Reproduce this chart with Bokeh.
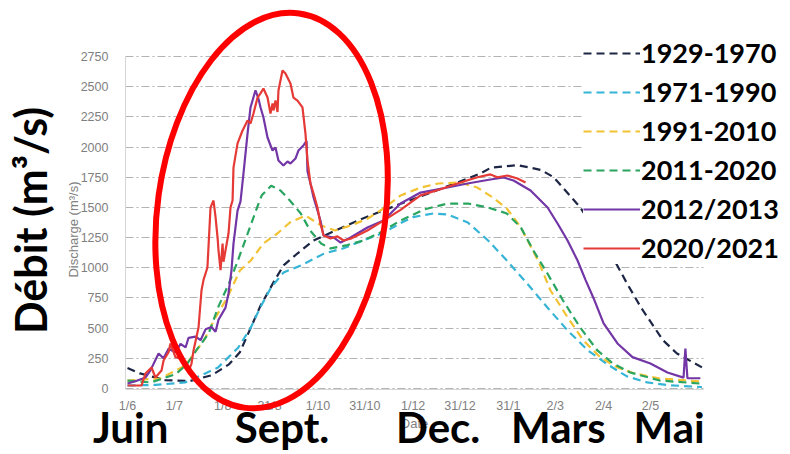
from bokeh.plotting import figure
from bokeh.models import Range1d, FixedTicker, Legend, LegendItem, Label
from bokeh.embed import file_html
from bokeh.resources import INLINE

# ---------------- data (day index from 1 June, discharge m3/s) ----------------
tick_days = [0, 30, 61, 91, 122, 152, 183, 213, 244, 274, 305, 335]
tick_labels = ["1/6", "1/7", "1/8", "31/8", "1/10", "31/10", "1/12", "31/12", "31/1", "2/3", "2/4", "2/5"]
y_ticks = [0, 250, 500, 750, 1000, 1250, 1500, 1750, 2000, 2250, 2500, 2750]

month_names = ["Juin", "Sept.", "Dec.", "Mars", "Mai"]
month_days = [2, 99, 199, 276, 347]

d_1929 = [0, 8, 24, 40, 54, 65, 72, 85, 94, 100, 109, 119, 125, 149, 175, 200, 226, 233, 250, 265, 273, 290, 311, 320, 329, 343, 352, 368]
q_1929 = [170, 125, 70, 62, 110, 200, 300, 680, 890, 1020, 1120, 1225, 1260, 1400, 1530, 1650, 1780, 1830, 1850, 1810, 1750, 1500, 1085, 870, 670, 400, 290, 175]

d_1971 = [0, 18, 37, 47, 58, 71, 79, 85, 92, 100, 111, 126, 138, 151, 164, 175, 183, 196, 205, 218, 231, 243, 256, 269, 282, 295, 308, 320, 333, 346, 368]
q_1971 = [25, 30, 50, 108, 174, 340, 505, 671, 837, 961, 1019, 1118, 1160, 1226, 1290, 1370, 1420, 1450, 1441, 1375, 1226, 1060, 870, 671, 480, 315, 195, 100, 50, 28, 12]

d_1991 = [0, 21, 37, 49, 56, 64, 72, 79, 87, 96, 104, 114, 124, 133, 143, 154, 164, 175, 188, 199, 213, 224, 234, 243, 252, 263, 271, 282, 292, 303, 314, 325, 341, 367]
q_1991 = [66, 83, 190, 400, 580, 754, 977, 1060, 1201, 1284, 1375, 1433, 1350, 1309, 1350, 1408, 1491, 1599, 1665, 1698, 1706, 1665, 1582, 1491, 1334, 1060, 812, 588, 398, 257, 174, 124, 83, 58]

d_2011 = [0, 15, 31, 38, 44, 52, 58, 65, 70, 77, 83, 86, 92, 98, 104, 111, 117, 124, 130, 140, 151, 162, 175, 190, 205, 218, 231, 243, 252, 260, 269, 279, 290, 301, 311, 322, 341, 367]
q_2011 = [66, 50, 120, 200, 315, 455, 671, 870, 1035, 1284, 1499, 1600, 1680, 1640, 1557, 1450, 1309, 1201, 1160, 1185, 1226, 1292, 1392, 1483, 1532, 1532, 1499, 1450, 1334, 1143, 953, 729, 505, 315, 207, 133, 66, 41]

d_2012 = [0, 5.1, 11.5, 14.7, 19.9, 23.1, 26.3, 30.7, 34, 37.2, 39.1, 43.6, 46.8, 50, 53.8, 56.4, 58.3, 62.8, 64.7, 66.6,
          67.9, 70.5, 72.4, 74.3, 76.9, 78.8, 82, 83.9, 85.2, 87.1, 89.7, 92.9, 94.8, 96.7, 99.9, 102.5, 104.4, 107.6, 109.5, 112.7,
          114.7, 115.3, 117.2, 119.2, 121.7, 123.6, 124.9, 125.6, 132, 136.5, 142.9, 153.7, 164, 174.9, 187.7, 205, 217.8, 232.5, 240.9, 247.3,
          258.2, 269.1, 275.5, 281.9, 288.3, 293.4, 298.5, 305, 313.9, 323.5, 335, 345.9, 356.2, 357.4, 358.7, 367]
q_2012 = [41, 60, 91, 150, 290, 250, 330, 300, 370, 340, 420, 430, 400, 490, 510, 470, 570, 670, 787, 977,
          1200, 1474, 1550, 1781, 2112, 2328, 2470, 2400, 2330, 2245, 2079, 1971, 1996, 1889, 1847, 1880, 1864, 1905, 1971, 2013,
          2050, 1800, 1698, 1582, 1474, 1392, 1309, 1267, 1251, 1209, 1251, 1334, 1392, 1532, 1623, 1665, 1698, 1731, 1748, 1723,
          1640, 1499, 1367, 1226, 1060, 900, 750, 540, 373, 260, 207, 133, 90, 330, 85, 85]

d_2020 = [0, 9, 11.5, 15.4, 17.9, 21.8, 23.1, 26.3, 27.5, 30.7, 32, 35.9, 39.1, 41, 42.3, 45.5, 47.4, 48.7, 51.2, 53.2,
          55.1, 56.4, 57.7, 58.3, 59.6, 60.9, 61.5, 64.7, 66, 67.3, 67.9, 70.5, 73.7, 76.9, 78.8, 80.7, 83.3, 85.2, 87.1, 89.7,
          91.6, 92.9, 93.5, 94.8, 96.1, 96.7, 99.3, 101.2, 104.4, 106.3, 108.9, 112.1, 114, 115.3, 117.2, 119.2, 121.7, 123.6, 125.6, 130,
          134.5, 138.4, 142.9, 153.7, 164, 174.9, 187.7, 200.5, 213.3, 224.2, 232.5, 237, 243.4, 249.8, 255]
q_2020 = [25, 25, 124, 174, 91, 149, 232, 300, 373, 260, 257, 232, 140, 207, 315, 505, 812, 900, 1002, 1500,
          1557, 1420, 1250, 1143, 980, 1201, 1050, 1284, 1500, 1557, 1830, 2030, 2137, 2220, 2195, 2278, 2410, 2444, 2485, 2410,
          2278, 2361, 2303, 2385, 2290, 2468, 2634, 2609, 2527, 2410, 2385, 2328, 2112, 1889, 1698, 1615, 1499, 1367, 1267, 1242,
          1260, 1226, 1240, 1309, 1390, 1480, 1600, 1650, 1706, 1750, 1773, 1750, 1764, 1739, 1706]

series_names = ["1929-1970", "1971-1990", "1991-2010", "2011-2020", "2012/2013", "2020/2021"]
series_days = [d_1929, d_1971, d_1991, d_2011, d_2012, d_2020]
series_q = [q_1929, q_1971, q_1991, q_2011, q_2012, q_2020]
series_colors = ["#1d2645", "#35b4d6", "#f2c232", "#2aa560", "#7236a6", "#e53a35"]
series_dash = ["8 5", "8 5", "8 5", "8 5", "solid", "solid"]

# ---------------- figure ----------------
W, H = 790, 454
p = figure(width=W, height=H, output_backend="svg", toolbar_location=None,
           x_range=Range1d(-81.36, 424.73), y_range=Range1d(-546.7, 3213.8),
           min_border=0)
p.outline_line_color = None
p.background_fill_color = "white"
p.border_fill_color = "white"

tick_font = "Liberation Sans"
gray = "#808080"

xa = p.xaxis[0]
xa.fixed_location = -12
xa.bounds = (-1.3, 369)
xa.ticker = FixedTicker(ticks=tick_days)
xa.major_label_overrides = {d: t for d, t in zip(tick_days, tick_labels)}
xa.major_tick_line_color = None
xa.minor_tick_line_color = None
xa.axis_line_color = "#d6d6d6"
xa.major_label_text_color = gray
xa.major_label_text_font = tick_font
xa.major_label_text_font_size = "12.5px"
xa.major_label_standoff = 3
xa.axis_label = "Date"
xa.axis_label_text_font = tick_font
xa.axis_label_text_font_style = "normal"
xa.axis_label_text_font_size = "13px"
xa.axis_label_text_color = gray
xa.axis_label_standoff = 0

ya = p.yaxis[0]
ya.fixed_location = -1.3
ya.bounds = (0, 2750)
yt = FixedTicker(ticks=y_ticks)
ya.ticker = yt
ya.major_tick_line_color = None
ya.minor_tick_line_color = None
ya.axis_line_color = "#d6d6d6"
ya.major_label_text_color = gray
ya.major_label_text_font = tick_font
ya.major_label_text_font_size = "12.5px"
ya.major_label_standoff = 11

# y-axis title placed beside the tick labels
p.add_layout(Label(x=73, y=225, x_units="screen", y_units="screen",
                   text="Discharge (m³/s)", angle=90, angle_units="deg",
                   text_align="center", text_baseline="middle",
                   text_font=tick_font, text_font_size="13px", text_color=gray))

p.xgrid.visible = False
yg = p.ygrid[0]
yg.ticker = yt
yg.grid_line_color = "#b3b3b3"
yg.grid_line_dash = "8 3 2 3"
yg.grid_line_width = 1
try:
    yg.cross_bounds = (-1.3, 369)
except Exception:
    pass

items = []
for name, d, q, c, dash in zip(series_names, series_days, series_q, series_colors, series_dash):
    r = p.line(d, q, line_color=c, line_width=2.2, line_dash=dash)
    items.append(LegendItem(label=name, renderers=[r]))

legend = Legend(items=items, location=(583, 190), orientation="vertical",
                label_text_font="Lato", label_text_font_style="bold",
                label_text_font_size="27px", label_text_color="black",
                glyph_width=57, glyph_height=30, label_height=30, spacing=6,
                padding=2, margin=0, label_standoff=1,
                border_line_color=None, background_fill_color="white",
                background_fill_alpha=1.0)
p.add_layout(legend)

# highlight ellipse around the summer peak
el = p.ellipse(x=[92.3], y=[1474], width=228, height=398,
               width_units="screen", height_units="screen",
               angle=-8, angle_units="deg",
               fill_color=None, line_color="#ff0000", line_width=6)
el.level = "overlay"

for name, d in zip(month_names, month_days):
    p.add_layout(Label(x=d, y=28, y_units="screen", text=name,
                       text_align="center", text_baseline="alphabetic",
                       text_font="Lato", text_font_style="bold",
                       text_font_size="42px", text_color="black"))

p.add_layout(Label(x=30, y=234, x_units="screen", y_units="screen",
                   text="Débit (m³/s)", angle=90, angle_units="deg",
                   text_align="center", text_baseline="alphabetic",
                   text_font="Lato", text_font_style="bold",
                   text_font_size="43px", text_color="black"))

open("out.html", "w").write(file_html(p, INLINE))
